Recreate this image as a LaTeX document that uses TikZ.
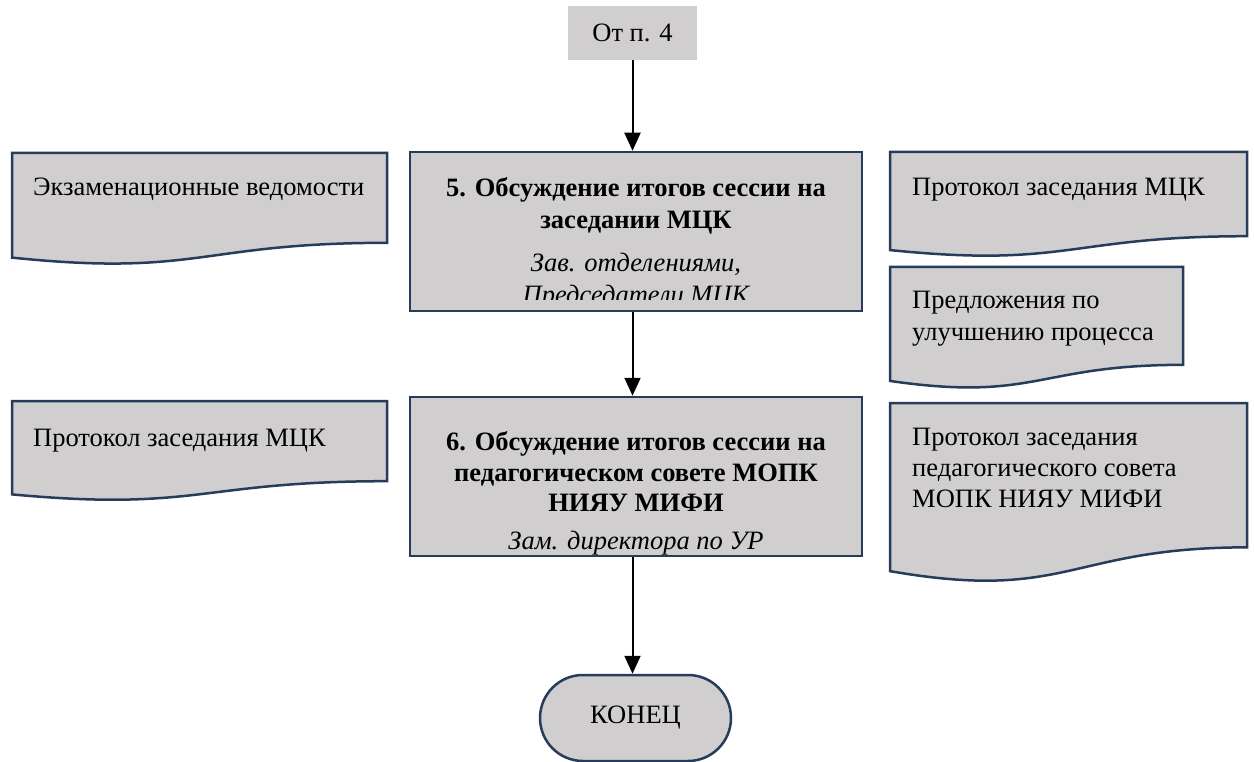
\documentclass[tikz,border=0pt]{standalone}
\usepackage{fontspec}
\setmainfont{Liberation Serif}
\usetikzlibrary{arrows.meta}
\definecolor{fillg}{RGB}{208,206,207}
\definecolor{edgeblue}{RGB}{37,61,90}
\tikzset{
  txt/.style={font=\fontsize{26.5}{32}\selectfont, inner sep=0pt},
  procbox/.style={draw=edgeblue, line width=2.5pt, fill=fillg, minimum width=452pt, minimum height=159pt, inner sep=0pt},
  flowarrow/.style={-{Triangle[length=18pt,width=16pt]}, line width=2pt, black},
  docpath/.style={draw=edgeblue, line width=2.5pt, fill=fillg},
  termbox/.style={draw=edgeblue, line width=2.5pt, fill=fillg, minimum width=191pt, minimum height=86pt, rounded corners=43pt, inner sep=0pt},
}
\newcommand{\docsh}[4]{%
  \path[docpath] (#1,#2) -- (#3,#2) -- (#3,{#2+0.802*#4})
    .. controls ({(#1+#3)/2},{#2+0.802*#4}) and ({(#1+#3)/2},{#2+1.107*#4}) ..
    (#1,{#2+0.934*#4}) -- cycle;}
\begin{document}
\begin{tikzpicture}[x=1pt,y=-1pt]
\useasboundingbox (0,0) rectangle (1254,762);
\fill[white] (0,0) rectangle (1254,762);

% start
\node[txt, fill=fillg, minimum width=129pt, minimum height=54pt] (start) at (632.5,33) {От п. 4};

% box 5
\node[procbox] (b5) at (636,231.5) {};
\begin{scope}
  \clip (412,154) rectangle (860,300);
  \node[txt, font=\fontsize{26.5}{32}\selectfont\bfseries, align=center] (t5) at (636,206) {5. Обсуждение итогов сессии на\\заседании МЦК};
  \node[txt, font=\fontsize{26.5}{32}\selectfont\itshape, align=center] (r5) at (636,281) {Зав. отделениями,\\Председатели МЦК};
\end{scope}

% box 6
\node[procbox] (b6) at (636,476.5) {};
\node[txt, font=\fontsize{26.5}{30.5}\selectfont\bfseries, align=center] (t6) at (636,472) {6. Обсуждение итогов сессии на\\педагогическом совете МОПК\\НИЯУ МИФИ};
\node[txt, font=\fontsize{26.5}{32}\selectfont\itshape] (r6) at (636,543) {Зам. директора по УР};

% terminator
\node[termbox, txt] (end) at (635.5,718) {КОНЕЦ};

% documents
\docsh{12}{153}{387}{112}
\node[txt, anchor=west] (d1) at (33,189) {Экзаменационные ведомости};

\docsh{890}{152}{1247}{105}
\node[txt, anchor=west] (d2) at (912,190) {Протокол заседания МЦК};

\docsh{890}{267}{1183}{122}
\node[txt, anchor=west, align=left] (d3) at (912,319) {Предложения по\\улучшению процесса};

\docsh{12}{401}{387}{100}
\node[txt, anchor=west] (d4) at (33,441) {Протокол заседания МЦК};

\docsh{890}{403}{1247}{180}
\node[txt, anchor=west, align=left, font=\fontsize{26.5}{31}\selectfont] (d5) at (912,468) {Протокол заседания\\педагогического совета\\МОПК НИЯУ МИФИ};

% arrows
\draw[flowarrow] (start.south) -- (start.south |- b5.north);
\draw[flowarrow] (start.south |- b5.south) -- (start.south |- b6.north);
\draw[flowarrow] (start.south |- b6.south) -- (start.south |- end.north);
\end{tikzpicture}
\end{document}
